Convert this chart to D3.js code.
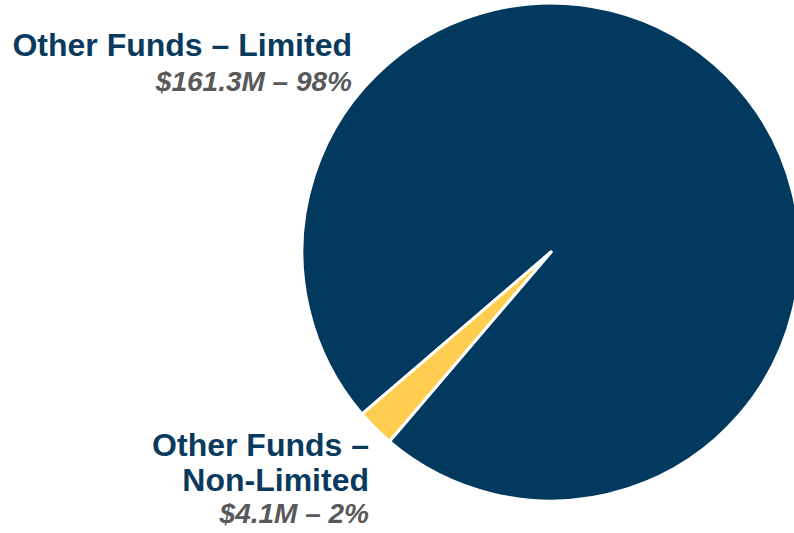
<!DOCTYPE html>
<html>
<head>
<meta charset="utf-8">
<script src="https://cdn.jsdelivr.net/npm/d3@7"></script>
<style>
  html, body { margin: 0; padding: 0; background: #fff; }
  svg { display: block; }
</style>
</head>
<body>
<svg id="chart" width="794" height="533"></svg>
<script>
const categories = ["Other Funds – Limited", "Other Funds – Non-Limited"];
const values = [161.3, 4.1];
const valueLabels = ["$161.3M – 98%", "$4.1M – 2%"];
const colors = ["#023A5F", "#FFCD4F"];

const svg = d3.select("#chart");
const cx = 551, cy = 252, r = 249;

const data = categories.map((c, i) => ({ name: c, value: values[i], label: valueLabels[i], color: colors[i] }));

const startDeg = 229.4;
const pie = d3.pie().sort(null).value(d => d.value)
  .startAngle(startDeg * Math.PI / 180)
  .endAngle(startDeg * Math.PI / 180 + 2 * Math.PI);
const arc = d3.arc().innerRadius(0).outerRadius(r);

const g = svg.append("g").attr("transform", `translate(${cx},${cy})`);
g.selectAll("path").data(pie(data)).join("path")
  .attr("d", arc)
  .attr("fill", d => d.data.color)
  .attr("stroke", "#fff")
  .attr("stroke-width", 3)
  .attr("stroke-linejoin", "round");

const navy = "#0A3B5E", gray = "#595959";
const font = "'Liberation Sans', Arial, sans-serif";

function label(x, lines) {
  lines.forEach(l => {
    svg.append("text")
      .attr("x", x).attr("y", l.y)
      .attr("text-anchor", "end")
      .attr("font-family", font)
      .attr("font-weight", "bold")
      .attr("font-style", l.italic ? "italic" : "normal")
      .attr("font-size", l.size)
      .attr("fill", l.color)
      .text(l.text);
  });
}

label(352, [
  { text: data[0].name, y: 56, size: 32, color: navy },
  { text: data[0].label, y: 91, size: 28, color: gray, italic: true }
]);
label(369, [
  { text: "Other Funds –", y: 456, size: 32, color: navy },
  { text: "Non-Limited", y: 491, size: 32, color: navy },
  { text: data[1].label, y: 523, size: 28, color: gray, italic: true }
]);
</script>
</body>
</html>
